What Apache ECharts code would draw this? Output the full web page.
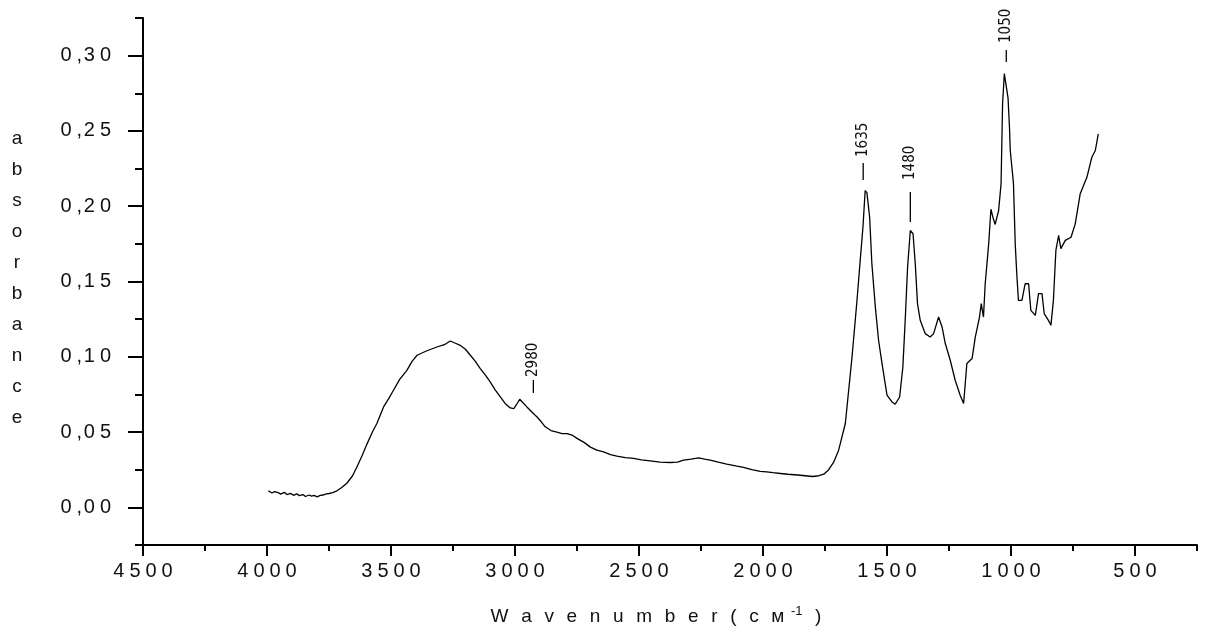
<!DOCTYPE html>
<html>
<head>
<meta charset="utf-8">
<script src="https://cdn.jsdelivr.net/npm/echarts@6/dist/echarts.min.js"></script>
<style>
  html, body { margin: 0; padding: 0; background: #fff; }
  #chart { width: 1211px; height: 637px; }
</style>
</head>
<body>
<div id="chart"></div>
<script>
// ---- data ----
const wavenumber = [3995, 3980, 3970, 3955, 3945, 3930, 3920, 3905, 3893, 3880, 3870, 3855, 3845, 3830, 3820, 3810, 3798, 3785, 3775, 3760, 3750, 3735, 3718, 3700, 3678, 3655, 3637, 3615, 3597, 3575, 3557, 3530, 3510, 3490, 3465, 3436, 3415, 3395, 3355, 3315, 3285, 3261, 3240, 3221, 3200, 3180, 3160, 3140, 3120, 3100, 3080, 3059, 3040, 3019, 3005, 2995, 2981, 2965, 2952, 2930, 2911, 2895, 2878, 2855, 2831, 2810, 2790, 2770, 2750, 2720, 2696, 2670, 2643, 2615, 2589, 2555, 2522, 2490, 2455, 2415, 2374, 2345, 2320, 2290, 2260, 2235, 2213, 2180, 2146, 2110, 2079, 2045, 2011, 1985, 1960, 1930, 1900, 1860, 1830, 1800, 1775, 1755, 1735, 1715, 1695, 1668, 1641, 1621, 1608, 1597, 1588, 1581, 1570, 1561, 1547, 1534, 1520, 1500, 1480, 1467, 1449, 1436, 1426, 1417, 1406, 1395, 1386, 1377, 1366, 1346, 1326, 1312, 1292, 1278, 1265, 1245, 1225, 1205, 1191, 1178, 1157, 1144, 1127, 1120, 1111, 1104, 1090, 1081, 1073, 1064, 1050, 1040, 1034, 1027, 1019, 1012, 1006, 1003, 990, 983, 976, 970, 956, 943, 929, 920, 902, 889, 875, 866, 849, 839, 829, 819, 808, 799, 781, 758, 741, 721, 694, 674, 660, 648];
const absorbance = [0.0110, 0.0095, 0.0105, 0.0098, 0.0088, 0.0100, 0.0085, 0.0093, 0.0080, 0.0090, 0.0078, 0.0085, 0.0072, 0.0082, 0.0075, 0.0079, 0.0070, 0.0080, 0.0082, 0.0090, 0.0092, 0.0098, 0.0110, 0.0130, 0.0160, 0.0210, 0.0270, 0.0350, 0.0420, 0.0500, 0.0557, 0.0667, 0.0720, 0.0778, 0.0850, 0.0910, 0.0970, 0.1010, 0.1040, 0.1065, 0.1080, 0.1105, 0.1090, 0.1076, 0.1050, 0.1010, 0.0970, 0.0922, 0.0880, 0.0833, 0.0780, 0.0733, 0.0690, 0.0660, 0.0655, 0.0680, 0.0718, 0.0690, 0.0667, 0.0630, 0.0600, 0.0570, 0.0535, 0.0510, 0.0500, 0.0490, 0.0490, 0.0480, 0.0458, 0.0430, 0.0400, 0.0380, 0.0369, 0.0350, 0.0340, 0.0330, 0.0325, 0.0315, 0.0309, 0.0300, 0.0298, 0.0300, 0.0314, 0.0320, 0.0329, 0.0320, 0.0314, 0.0300, 0.0287, 0.0275, 0.0265, 0.0250, 0.0239, 0.0235, 0.0230, 0.0225, 0.0220, 0.0215, 0.0210, 0.0205, 0.0210, 0.0220, 0.0250, 0.0300, 0.0380, 0.0557, 0.0999, 0.1375, 0.1640, 0.1860, 0.2104, 0.2090, 0.1927, 0.1618, 0.1330, 0.1110, 0.0955, 0.0745, 0.0700, 0.0685, 0.0733, 0.0932, 0.1264, 0.1595, 0.1839, 0.1817, 0.1618, 0.1353, 0.1242, 0.1154, 0.1131, 0.1154, 0.1264, 0.1198, 0.1088, 0.0977, 0.0844, 0.0745, 0.0690, 0.0955, 0.0988, 0.1131, 0.1264, 0.1353, 0.1264, 0.1485, 0.1750, 0.1980, 0.1927, 0.1879, 0.1970, 0.2150, 0.2680, 0.2880, 0.2890, 0.2720, 0.2520, 0.2370, 0.2150, 0.1750, 0.1530, 0.1375, 0.1375, 0.1485, 0.1485, 0.1308, 0.1275, 0.1419, 0.1419, 0.1286, 0.1242, 0.1209, 0.1375, 0.1706, 0.1806, 0.1718, 0.1773, 0.1794, 0.1883, 0.2082, 0.2192, 0.2325, 0.2370, 0.2480];

const xMajorTicks = [4500, 4000, 3500, 3000, 2500, 2000, 1500, 1000, 500];
const xMinorTicks = [4250, 3750, 3250, 2750, 2250, 1750, 1250, 750, 250];
const yMajorTicks = [0, 0.05, 0.10, 0.15, 0.20, 0.25, 0.30];
const yMinorTicks = [-0.025, 0.025, 0.075, 0.125, 0.175, 0.225, 0.275, 0.325];

const peakLabels = ['2980', '1635', '1480', '1050'];
const peakX = [2926, 1596, 1406, 1019];
const peakLineTop = [0.0846, 0.2287, 0.2094, 0.3038];
const peakLineBottom = [0.0760, 0.2174, 0.1895, 0.2958];
const peakTextBottom = [0.0866, 0.2327, 0.2174, 0.3084];

const xAxisTitle = 'W a v e n u m b e r ( c м';
const yAxisTitle = 'absorbance';

// ---- chart ----
const FONT = '"Liberation Sans", Arial, sans-serif';
const NARROW = '"Liberation Sans Narrow", "DejaVu Sans Condensed", sans-serif';
const chart = echarts.init(document.getElementById('chart'), null, { renderer: 'canvas' });

function fmtY(v) {
  const s = Math.abs(v) < 1e-9 ? '0,00' : v.toFixed(2).replace('.', ',');
  return s[0] + '\u2005' + s[1] + '\u200A' + s[2] + '\u2005' + s[3];
}
function fmtX(v) {
  return String(v).split('').join('\u2005');
}

const axisLineStyle = { color: '#000', width: 2 };
const min = 250, max = 4500, ymin = -0.025, ymax = 0.325;

chart.setOption({
  animation: false,
  backgroundColor: '#fff',
  grid: { left: 143, right: 14, top: 18, bottom: 92, containLabel: false },
  xAxis: [
    {
      type: 'value', min: min, max: max, inverse: true, position: 'bottom',
      splitLine: { show: false },
      axisLine: { show: true, onZero: false, lineStyle: axisLineStyle },
      axisTick: { show: true, inside: false, length: 11, customValues: xMajorTicks, lineStyle: axisLineStyle },
      axisLabel: { show: true, customValues: xMajorTicks, margin: 16, color: '#111', fontSize: 20, fontFamily: FONT, formatter: fmtX }
    },
    {
      type: 'value', min: min, max: max, inverse: true, position: 'bottom',
      splitLine: { show: false },
      axisLine: { show: false, onZero: false },
      axisTick: { show: true, inside: false, length: 6, customValues: xMinorTicks, lineStyle: axisLineStyle },
      axisLabel: { show: false }
    }
  ],
  yAxis: [
    {
      type: 'value', min: ymin, max: ymax, position: 'left',
      splitLine: { show: false },
      axisLine: { show: true, onZero: false, lineStyle: axisLineStyle },
      axisTick: { show: true, inside: false, length: 15, customValues: yMajorTicks, lineStyle: axisLineStyle },
      axisLabel: { show: true, customValues: yMajorTicks, margin: 32, color: '#111', fontSize: 20, fontFamily: FONT, formatter: fmtY }
    },
    {
      type: 'value', min: ymin, max: ymax, position: 'left',
      splitLine: { show: false },
      axisLine: { show: false, onZero: false },
      axisTick: { show: true, inside: false, length: 8, customValues: yMinorTicks, lineStyle: axisLineStyle },
      axisLabel: { show: false }
    }
  ],
  series: [{
    type: 'line',
    xAxisIndex: 0, yAxisIndex: 0,
    data: wavenumber.map((w, i) => [w, absorbance[i]]),
    showSymbol: false, symbol: 'none', smooth: false,
    lineStyle: { color: '#000', width: 1.3 },
    silent: true
  }]
});

function px(x, y) { return chart.convertToPixel({ xAxisIndex: 0, yAxisIndex: 0 }, [x, y]); }

const graphics = [];
for (let i = 0; i < peakLabels.length; i++) {
  const a = px(peakX[i], peakLineTop[i]);
  const b = px(peakX[i], peakLineBottom[i]);
  const t = px(peakX[i], peakTextBottom[i]);
  graphics.push({ type: 'line', shape: { x1: a[0], y1: a[1], x2: b[0], y2: b[1] }, style: { stroke: '#000', lineWidth: 1.3 } });
  graphics.push({ type: 'text', x: t[0], y: t[1], rotation: Math.PI / 2,
    style: { text: peakLabels[i], fill: '#111', fontSize: 15, fontFamily: NARROW, align: 'left', verticalAlign: 'middle' } });
}
graphics.push({
  type: 'text', x: 17, y: 278,
  style: { text: yAxisTitle.split('').join('\n'), fill: '#111', fontSize: 19, fontFamily: FONT, lineHeight: 31, align: 'center', verticalAlign: 'middle' }
});
graphics.push({
  type: 'text', x: 656, y: 617,
  style: {
    text: xAxisTitle.split(' ').join('\u2002\u2006') + '{sup|\u2002-1}\u2002\u2006)',
    fill: '#111', fontSize: 19, fontFamily: FONT, align: 'center', verticalAlign: 'middle',
    rich: { sup: { fontSize: 13, fontFamily: FONT, fill: '#111', verticalAlign: 'top', padding: [0, 0, 12, 0] } }
  }
});
chart.setOption({ graphic: graphics });
</script>
</body>
</html>
